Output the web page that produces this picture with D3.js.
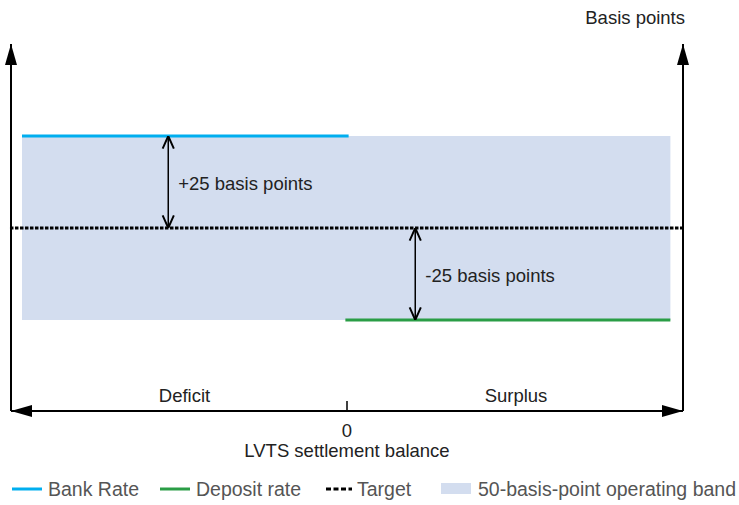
<!DOCTYPE html>
<html>
<head>
<meta charset="utf-8">
<script src="https://cdn.jsdelivr.net/npm/d3@7"></script>
<style>
  body { margin: 0; background: #fff; }
  text { font-family: "Liberation Sans", Arial, sans-serif; }
</style>
</head>
<body>
<svg id="chart" width="739" height="505"></svg>
<script>
// Data (basis points relative to target, settlement balance sides)
const SIDES = ["Deficit", "Surplus"];
const BANK_RATE = [{ x: -1, y: 25 }, { x: 0.005, y: 25 }];
const DEPOSIT_RATE = [{ x: -0.005, y: -25 }, { x: 0.995, y: -25 }];
const TARGET = [{ x: -1.037, y: 0 }, { x: 1.035, y: 0 }];
const BAND = { x0: -1, x1: 0.995, y0: -25, y1: 25 };
const SPREADS = [
  { x: -0.55, from: 0, to: 25, label: "+25 basis points" },
  { x: 0.21, from: 0, to: -25, label: "-25 basis points" }
];
const LEGEND = [
  { label: "Bank Rate", type: "line", color: "#00aeef" },
  { label: "Deposit rate", type: "line", color: "#2a9d46" },
  { label: "Target", type: "dash", color: "#000" },
  { label: "50-basis-point operating band", type: "box", color: "#d3ddef" }
];

const FONT = 18.5;
const svg = d3.select("#chart");

const x = d3.scaleLinear().domain([-1, 1]).range([22, 672]);
const y = d3.scaleLinear().domain([-25, 25]).range([320, 136]);

const LEFT = 11, RIGHT = 683, BOTTOM = 411, TOP = 44;

// arrow markers
const defs = svg.append("defs");
defs.append("marker")
  .attr("id", "big")
  .attr("viewBox", "0 0 21 12")
  .attr("refX", 21).attr("refY", 6)
  .attr("markerWidth", 21).attr("markerHeight", 12)
  .attr("markerUnits", "userSpaceOnUse")
  .attr("orient", "auto-start-reverse")
  .append("path").attr("d", "M0,0 L21,6 L0,12 Z").attr("fill", "#000");
const open = defs.append("marker")
  .attr("id", "open")
  .attr("viewBox", "0 0 10 10")
  .attr("refX", 10).attr("refY", 5)
  .attr("markerWidth", 14).attr("markerHeight", 14)
  .attr("markerUnits", "userSpaceOnUse")
  .attr("orient", "auto-start-reverse");
open.append("path").attr("d", "M1,1 L10,5 L1,9").attr("fill", "none")
  .attr("stroke", "#000").attr("stroke-width", 1.4);

// band
svg.append("rect")
  .attr("x", x(BAND.x0)).attr("y", y(BAND.y1))
  .attr("width", x(BAND.x1) - x(BAND.x0))
  .attr("height", y(BAND.y0) - y(BAND.y1))
  .attr("fill", "#d3ddef");

const line = d3.line().x((d) => x(d.x)).y((d) => y(d.y));

svg.append("path").attr("d", line(BANK_RATE))
  .attr("stroke", "#00aeef").attr("stroke-width", 3).attr("fill", "none");
svg.append("path").attr("d", line(DEPOSIT_RATE))
  .attr("stroke", "#2a9d46").attr("stroke-width", 3).attr("fill", "none");
svg.append("path").attr("d", line(TARGET))
  .attr("stroke", "#000").attr("stroke-width", 2.8)
  .attr("stroke-dasharray", "3.5,1.5").attr("fill", "none");

// spread arrows
SPREADS.forEach((s) => {
  svg.append("line")
    .attr("x1", x(s.x)).attr("x2", x(s.x))
    .attr("y1", y(s.from)).attr("y2", y(s.to))
    .attr("stroke", "#000").attr("stroke-width", 1.5)
    .attr("marker-start", "url(#open)").attr("marker-end", "url(#open)");
  svg.append("text")
    .attr("x", x(s.x) + 10)
    .attr("y", (y(s.from) + y(s.to)) / 2 + 8)
    .attr("font-size", FONT).attr("fill", "#222")
    .text(s.label);
});

// axes
svg.append("line").attr("x1", LEFT).attr("x2", LEFT).attr("y1", BOTTOM).attr("y2", TOP)
  .attr("stroke", "#000").attr("stroke-width", 2).attr("marker-end", "url(#big)");
svg.append("line").attr("x1", RIGHT).attr("x2", RIGHT).attr("y1", BOTTOM).attr("y2", TOP)
  .attr("stroke", "#000").attr("stroke-width", 2).attr("marker-end", "url(#big)");
svg.append("line").attr("x1", LEFT).attr("x2", RIGHT).attr("y1", BOTTOM).attr("y2", BOTTOM)
  .attr("stroke", "#000").attr("stroke-width", 2)
  .attr("marker-start", "url(#big)").attr("marker-end", "url(#big)");
svg.append("line").attr("x1", x(0)).attr("x2", x(0)).attr("y1", BOTTOM - 10).attr("y2", BOTTOM)
  .attr("stroke", "#000").attr("stroke-width", 1.5);

svg.append("text").attr("x", 685).attr("y", 24).attr("text-anchor", "end")
  .attr("font-size", FONT).attr("fill", "#222").text("Basis points");

svg.selectAll(".side").data(SIDES).join("text")
  .attr("class", "side")
  .attr("x", (d, i) => (i === 0 ? x(-0.5) : x(0.52)))
  .attr("y", 402).attr("text-anchor", "middle")
  .attr("font-size", FONT).attr("fill", "#222").text((d) => d);

svg.append("text").attr("x", x(0)).attr("y", 437).attr("text-anchor", "middle")
  .attr("font-size", FONT).attr("fill", "#222").text("0");
svg.append("text").attr("x", x(0)).attr("y", 457).attr("text-anchor", "middle")
  .attr("font-size", FONT).attr("fill", "#222").text("LVTS settlement balance");

// legend
const legendX = [12, 160, 326, 441];
const lg = svg.selectAll(".legend").data(LEGEND).join("g")
  .attr("class", "legend")
  .attr("transform", (d, i) => `translate(${legendX[i]},495)`);
lg.each(function (d) {
  const g = d3.select(this);
  if (d.type === "box") {
    g.append("rect").attr("x", 0).attr("y", -12).attr("width", 30).attr("height", 11).attr("fill", d.color);
  } else {
    g.append("line").attr("x1", 0).attr("x2", d.type === "dash" ? 26 : 30)
      .attr("y1", -6).attr("y2", -6)
      .attr("stroke", d.color).attr("stroke-width", 3)
      .attr("stroke-dasharray", d.type === "dash" ? "5,2.5" : null);
  }
});
lg.append("text")
  .attr("x", (d) => (d.type === "box" ? 37 : d.type === "dash" ? 31 : 36))
  .attr("y", 1).attr("font-size", 19.5).attr("fill", "#555")
  .text((d) => d.label);
</script>
</body>
</html>
